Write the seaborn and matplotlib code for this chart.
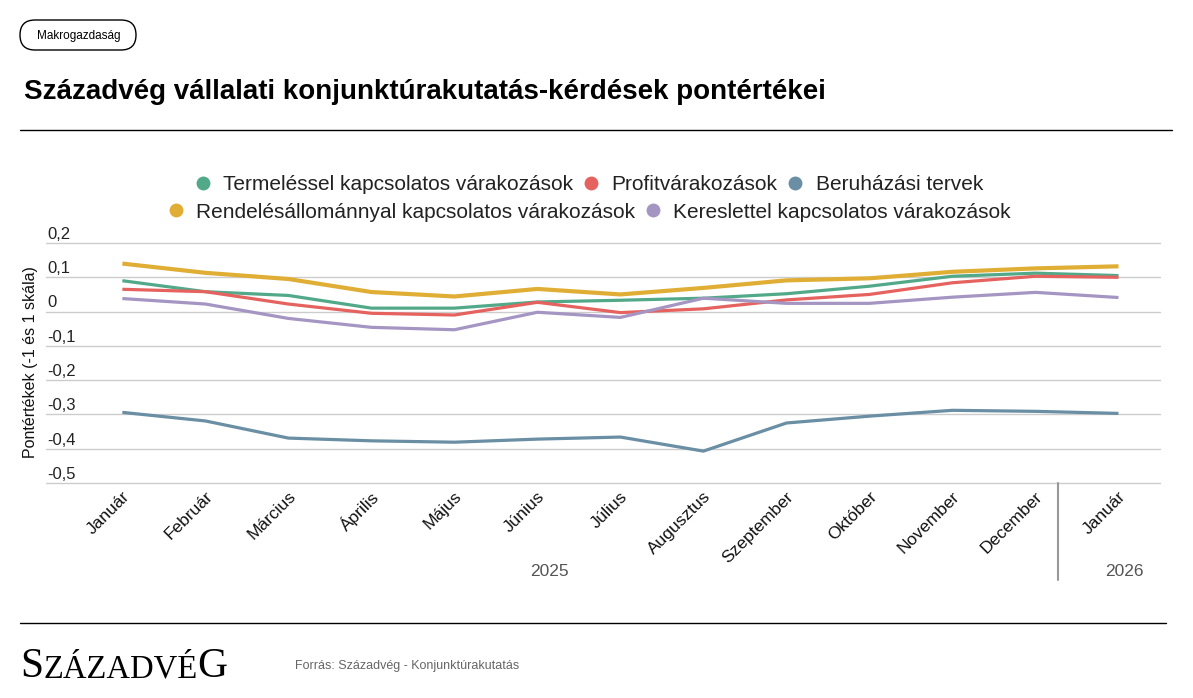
import matplotlib
matplotlib.use("Agg")
import matplotlib.pyplot as plt
import matplotlib.transforms as mtransforms
from matplotlib.lines import Line2D
from matplotlib.patches import FancyBboxPatch
import seaborn as sns
import pandas as pd

# ---------------- data ----------------
months = ['Január', 'Február', 'Március', 'Április', 'Május', 'Június', 'Július',
          'Augusztus', 'Szeptember', 'Október', 'November', 'December', 'Január']
termeles = [0.090, 0.058, 0.047, 0.010, 0.010, 0.028, 0.033, 0.039, 0.052, 0.074, 0.103, 0.112, 0.105]
profit = [0.065, 0.058, 0.022, -0.005, -0.010, 0.027, -0.003, 0.008, 0.034, 0.050, 0.084, 0.103, 0.100]
beruhazas = [-0.294, -0.319, -0.369, -0.377, -0.381, -0.372, -0.366, -0.407, -0.325, -0.305, -0.288, -0.291, -0.297]
rendeles = [0.140, 0.113, 0.095, 0.057, 0.044, 0.066, 0.050, 0.069, 0.091, 0.097, 0.116, 0.126, 0.132]
kereslet = [0.038, 0.022, -0.020, -0.046, -0.053, -0.002, -0.017, 0.039, 0.024, 0.024, 0.042, 0.056, 0.041]

series_names = ['Termeléssel kapcsolatos várakozások', 'Profitvárakozások', 'Beruházási tervek',
                'Rendelésállománnyal kapcsolatos várakozások', 'Kereslettel kapcsolatos várakozások']
series_values = [termeles, profit, beruhazas, rendeles, kereslet]
colors = ['#52a98a', '#e5625f', '#6a8ea3', '#e0ae35', '#a595c3']
widths = [2.3, 2.3, 2.3, 3.0, 2.3]

yticks = [0.2, 0.1, 0.0, -0.1, -0.2, -0.3, -0.4, -0.5]
ytick_labels = ['0,2', '0,1', '0', '-0,1', '-0,2', '-0,3', '-0,4', '-0,5']
years = ['2025', '2026']

# ---------------- style ----------------
sns.set_style('white')
plt.rcParams['font.family'] = ['Liberation Sans', 'DejaVu Sans']

W, H = 1193, 698
fig = plt.figure(figsize=(W / 100, H / 100), dpi=100)


def fx(px):
    return px / W


def fy(py):
    return 1 - py / H


ax = fig.add_axes([fx(46), fy(483), fx(1160) - fx(46), (483 - 243) / H])

rows = []
for name, vals in zip(series_names, series_values):
    for i, v in enumerate(vals):
        rows.append({'idx': i, 'value': v, 'series': name})
df = pd.DataFrame(rows)

for name, c, lw in zip(series_names, colors, widths):
    sub = df[df['series'] == name]
    sns.lineplot(data=sub, x='idx', y='value', color=c, linewidth=lw, ax=ax,
                 legend=False, solid_capstyle='butt', solid_joinstyle='round')

ax.set_xlim(-0.92, 12.5)
ax.set_ylim(-0.5, 0.2)
for s in ax.spines.values():
    s.set_visible(False)
ax.set_xlabel('')
ax.set_ylabel('')

# gridlines
for v in yticks:
    ax.axhline(v, color='#cccccc', lw=1.0, zorder=0, clip_on=False)

# y tick labels (above gridlines, left aligned)
ax.set_yticks([])
tr_y = mtransforms.offset_copy(ax.get_yaxis_transform(), fig=fig, x=0, y=3, units='points')
for v, lab in zip(yticks, ytick_labels):
    ax.text(0.001, v, lab, transform=tr_y, ha='left', va='baseline', fontsize=12, color='#222222')

# x tick labels
ax.set_xticks(range(len(months)))
ax.set_xticklabels(months, rotation=45, ha='right', va='center', rotation_mode='anchor',
                   fontsize=12.5, color='#111111')
ax.tick_params(axis='x', length=0, pad=8)
for lab in ax.get_xticklabels():
    lab.set_transform(lab.get_transform() + mtransforms.ScaledTranslation(5 / 100, 0, fig.dpi_scale_trans))

# year labels and separator
tr_year = mtransforms.blended_transform_factory(ax.transData, fig.transFigure)
ax.text(5.15, fy(571), years[0], transform=tr_year, ha='center', va='center', fontsize=12.5, color='#555555')
ax.text(12.07, fy(571), years[1], transform=tr_year, ha='center', va='center', fontsize=12.5, color='#555555')
ax.add_line(Line2D([11.27, 11.27], [fy(483), fy(580)], transform=tr_year, color='#999999', lw=1.5, clip_on=False))

# y axis label
fig.text(fx(31), fy(362), 'Pontértékek (-1 és 1 skála)', rotation=90, ha='center', va='center',
         fontsize=11.5, color='#111111')

# legend (two rows)
handles = [Line2D([], [], marker='o', linestyle='', markersize=10, color=c, markeredgewidth=0) for c in colors]
leg_kw = dict(frameon=False, fontsize=15.0, handlelength=0.63, handletextpad=0.66, columnspacing=0.55,
              borderaxespad=0, borderpad=0)
leg1 = fig.legend(handles[:3], series_names[:3], loc='center', bbox_to_anchor=(fx(589.5), fy(185)), ncol=3, **leg_kw)
leg2 = fig.legend(handles[3:], series_names[3:], loc='center', bbox_to_anchor=(fx(590), fy(212)), ncol=2, **leg_kw)
for lg in (leg1, leg2):
    for t in lg.get_texts():
        t.set_color('#222222')

# header
pill = FancyBboxPatch((20, H - 50), 116, 30, boxstyle='round,pad=0,rounding_size=15',
                      transform=mtransforms.IdentityTransform(), fill=False, ec='black', lw=1.0)
fig.add_artist(pill)
fig.text(fx(79), fy(35.5), 'Makrogazdaság', ha='center', va='center', fontsize=8.5, color='black')
fig.text(fx(24), fy(92), 'Századvég vállalati konjunktúrakutatás-kérdések pontértékei',
         ha='left', va='center', fontsize=20, fontweight='bold', color='black')
fig.add_artist(Line2D([fx(20), fx(1172)], [fy(130), fy(130)], transform=fig.transFigure, color='black', lw=1.0))

# footer
fig.add_artist(Line2D([fx(20), fx(1166)], [fy(623), fy(623)], transform=fig.transFigure, color='black', lw=1.0))
fig.canvas.draw()
renderer = fig.canvas.get_renderer()
x = fx(20)
for part, size in (('S', 30), ('ZÁZADVÉ', 23.5), ('G', 30)):
    t = fig.text(x, fy(677), part, ha='left', va='baseline', fontsize=size, family='Liberation Serif', color='black')
    bb = t.get_window_extent(renderer)
    x += bb.width / W
fig.text(fx(295), fy(666), 'Forrás: Századvég - Konjunktúrakutatás', ha='left', va='center', fontsize=9, color='#666666')

fig.savefig('out.png', dpi=100)
